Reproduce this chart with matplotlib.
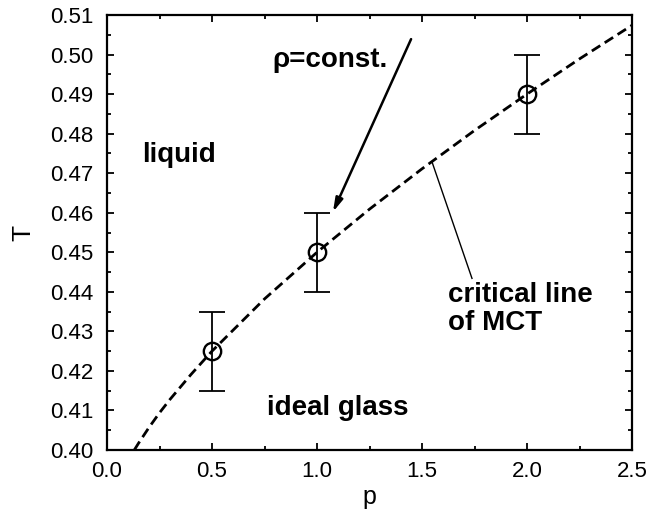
import matplotlib
matplotlib.use("Agg")
import matplotlib.pyplot as plt
from matplotlib.ticker import MultipleLocator, FormatStrFormatter

plt.rcParams['font.family'] = ['Liberation Sans', 'DejaVu Sans']

# critical line of MCT
line_p = [0.13, 0.15, 0.2, 0.25, 0.3, 0.4, 0.5, 0.75, 1.0, 1.25, 1.5, 1.75, 2.0, 2.25, 2.5]
line_T = [0.400, 0.4017, 0.4057, 0.4094, 0.4128, 0.4191, 0.425, 0.4382, 0.450,
          0.4609, 0.4711, 0.4808, 0.490, 0.4989, 0.5074]

# data points with error bars
pts_p = [0.5, 1.0, 2.0]
pts_T = [0.425, 0.450, 0.490]
pts_err = [0.010, 0.010, 0.010]

xticks = [0.0, 0.5, 1.0, 1.5, 2.0, 2.5]
yticks = [0.40, 0.41, 0.42, 0.43, 0.44, 0.45, 0.46, 0.47, 0.48, 0.49, 0.50, 0.51]

fig = plt.figure(figsize=(6.47, 5.12), dpi=100)
ax = fig.add_axes([107/647, 1-450/512, (632-107)/647, (450-15)/512])

ax.plot(line_p, line_T, color='black', lw=2.0, dashes=(3.6, 1.9))
ax.errorbar(pts_p, pts_T, yerr=pts_err, fmt='none', ecolor='black',
            elinewidth=1.3, capsize=9.5, capthick=1.3, zorder=3)
ax.plot(pts_p, pts_T, 'o', mfc='none', mec='black', ms=12.5, mew=1.7, zorder=4)

ax.set_xlim(0, 2.5)
ax.set_ylim(0.40, 0.51)
ax.set_xticks(xticks)
ax.set_yticks(yticks)
ax.xaxis.set_major_formatter(FormatStrFormatter('%.1f'))
ax.yaxis.set_major_formatter(FormatStrFormatter('%.2f'))
ax.xaxis.set_minor_locator(MultipleLocator(0.25))
ax.yaxis.set_minor_locator(MultipleLocator(0.005))
ax.tick_params(which='both', direction='in', top=True, right=True,
               width=1.3, labelsize=16)
ax.tick_params(axis='y', which='major', pad=10)
ax.tick_params(axis='x', which='major', pad=8)
ax.tick_params(which='major', length=5)
ax.tick_params(which='minor', length=3)
for s in ax.spines.values():
    s.set_linewidth(1.6)

ax.set_xlabel('p', fontsize=18, labelpad=2)
ax.set_ylabel('T', fontsize=19, labelpad=10)

ax.text(0.165, 0.4746, 'liquid', fontsize=20, fontweight='bold', va='center', ha='left')
ax.text(0.76, 0.4106, 'ideal glass', fontsize=20, fontweight='bold', va='center', ha='left')
ax.text(1.624, 0.4356, 'critical line\nof MCT', fontsize=20, fontweight='bold',
        va='center', ha='left', linespacing=1.08)
ax.plot([1.548, 1.738], [0.4728, 0.4434], color='black', lw=1.0)

ax.text(1.338, 0.4985, 'ρ=const.', fontsize=20, fontweight='bold', va='center', ha='right')
ax.annotate('', xy=(1.076, 0.4602), xytext=(1.448, 0.5039),
            arrowprops=dict(arrowstyle='-|>,head_length=0.8,head_width=0.22',
                            color='black', lw=1.8, shrinkA=0, shrinkB=0))

fig.savefig('out.png', dpi=100)
